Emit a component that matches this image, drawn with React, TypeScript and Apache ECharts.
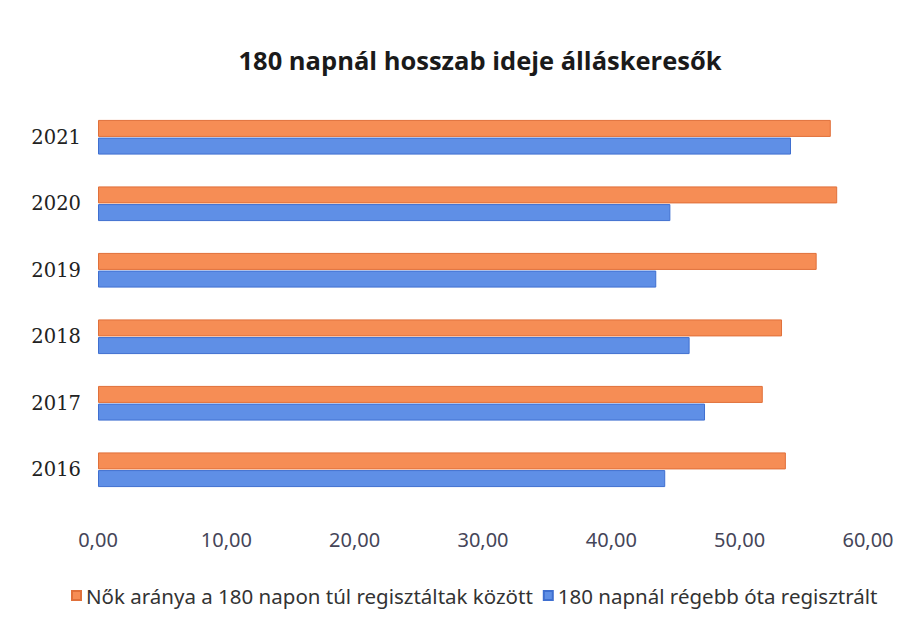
import React, { useEffect, useRef } from "react";
import * as echarts from "echarts";

const categories = ["2016", "2017", "2018", "2019", "2020", "2021"];
const womenShare = [53.6, 51.8, 53.3, 56.0, 57.6, 57.1];
const longTerm = [44.2, 47.3, 46.1, 43.5, 44.6, 54.0];
const seriesNames = [
  "Nők aránya a 180 napon túl regisztáltak között",
  "180 napnál régebb óta regisztrált",
];
const xTicks = { min: 0, max: 60, interval: 10 };

export default function App() {
  const ref = useRef<HTMLDivElement>(null);
  useEffect(() => {
    if (!ref.current) return;
    const chart = echarts.init(ref.current, null, { renderer: "svg" });
    chart.setOption({
      animation: false,
      backgroundColor: "#ffffff",
      title: {
        text: "180 napnál hosszab ideje álláskeresők",
        left: 475,
        textAlign: "center",
        top: 42,
        textStyle: {
          fontFamily: "'Open Sans', sans-serif",
          fontWeight: "bold",
          fontSize: 25.5,
          color: "#1a1a1a",
        },
      },
      legend: {
        data: [seriesNames[0], seriesNames[1]],
        left: 66,
        top: 580,
        itemWidth: 9,
        itemHeight: 9,
        itemGap: 10,
        icon: "rect",
        textStyle: {
          fontFamily: "'Noto Sans', sans-serif",
          fontSize: 20.5,
          color: "#333333",
        },
      },
      grid: { left: 98, right: 53, top: 104, bottom: 118, containLabel: false },
      xAxis: {
        type: "value",
        min: xTicks.min,
        max: xTicks.max,
        interval: xTicks.interval,
        splitLine: { show: false },
        axisLine: { show: false },
        axisTick: { show: false },
        axisLabel: {
          margin: 26,
          fontFamily: "'Noto Sans', sans-serif",
          fontSize: 20,
          color: "#454558",
          formatter: (v: number) => v.toFixed(2).replace(".", ","),
        },
      },
      yAxis: {
        type: "category",
        data: categories,
        axisLine: { show: false },
        axisTick: { show: false },
        axisLabel: {
          margin: 17,
          fontFamily: "'DejaVu Serif', serif",
          fontSize: 19.5,
          color: "#222222",
        },
      },
      series: [
        {
          name: seriesNames[0],
          type: "bar",
          data: womenShare,
          barWidth: 17,
          barGap: "4%",
          itemStyle: { color: "#f68d55", borderColor: "#e0703a", borderWidth: 1 },
        },
        {
          name: seriesNames[1],
          type: "bar",
          data: longTerm,
          barWidth: 17,
          barGap: "4%",
          itemStyle: { color: "#5f8fe6", borderColor: "#3f6fd0", borderWidth: 1 },
        },
      ],
    });
    return () => chart.dispose();
  }, []);
  return (
    <div
      ref={ref}
      style={{ position: "fixed", left: 0, top: 0, width: 921, height: 621 }}
    />
  );
}
